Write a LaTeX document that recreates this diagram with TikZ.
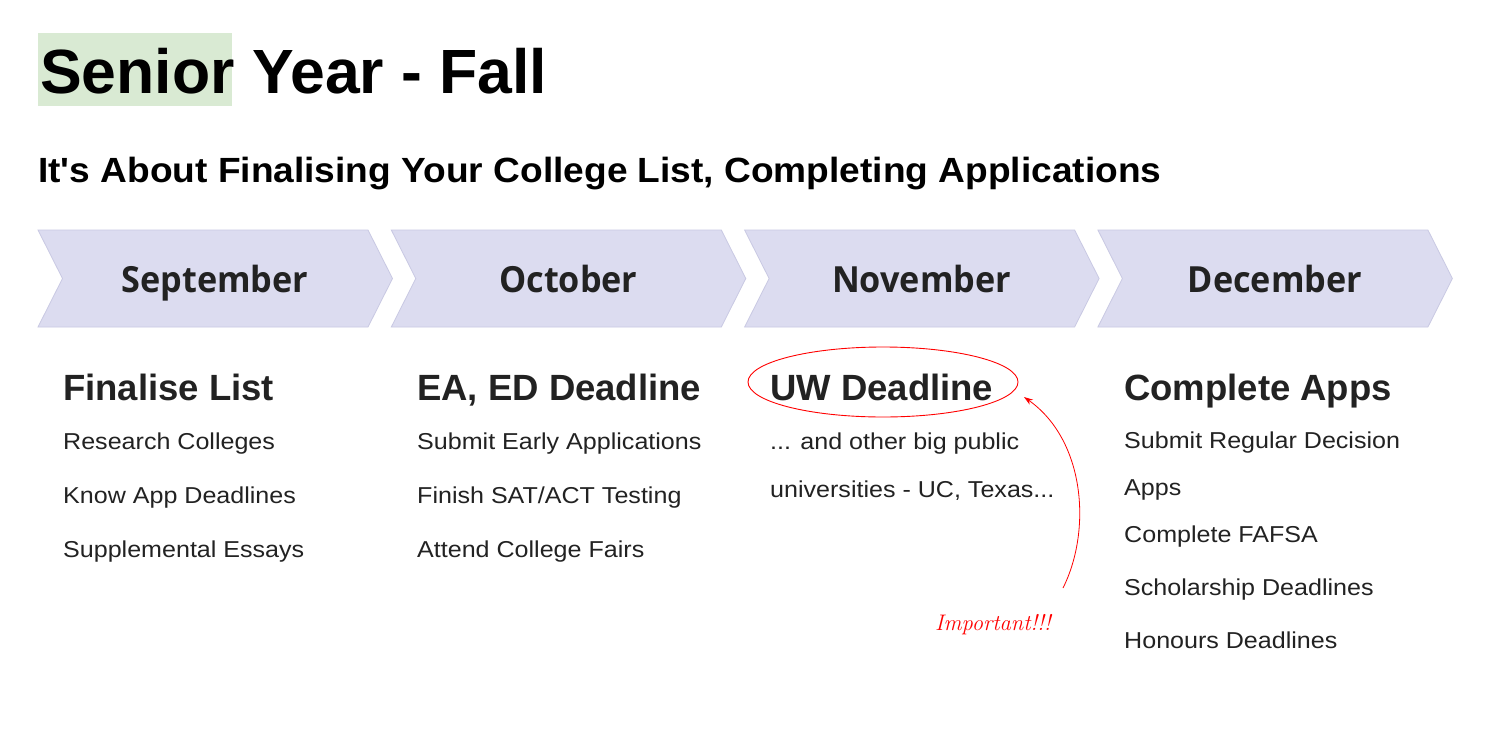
\documentclass[tikz,border=0pt]{standalone}
\usepackage{fontspec}
\setmainfont{Liberation Sans}[Ligatures=TeXOff]
\newfontfamily\monthfont{Open Sans}[FakeStretch=0.95]
\newfontfamily\bodyfont{Liberation Sans}[FakeStretch=1.09,Ligatures=TeXOff]
\newfontfamily\subfont{Liberation Sans}[FakeStretch=1.06,Ligatures=TeXOff]
\usetikzlibrary{shapes.geometric,arrows.meta}
\definecolor{chev}{HTML}{DCDCF0}
\definecolor{chevline}{HTML}{C9C9E3}
\definecolor{hl}{HTML}{D9EAD3}
\definecolor{txt}{HTML}{222222}
\begin{document}
\begin{tikzpicture}[x=1pt,y=-1pt,
  chevbox/.style={fill=chev,draw=chevline,line width=0.8pt},
  monthlbl/.style={anchor=base,font=\monthfont\fontsize{36}{36}\selectfont\bfseries,text=txt,inner sep=0},
  head/.style={anchor=base west,inner sep=0,font=\fontsize{36.5}{36.5}\selectfont\bfseries,text=txt},
  item/.style={anchor=base west,inner sep=0,font=\bodyfont\fontsize{23}{23}\selectfont,text=txt},
]
\useasboundingbox (0,0) rectangle (1494,734);
\fill[white] (0,0) rectangle (1494,734);
% title
\fill[hl] (38,33) rectangle (232,106);
\node[anchor=base west,inner sep=0,font=\fontsize{62.5}{62.5}\selectfont\bfseries] (title) at (40,93) {Senior Year - Fall};
\node[anchor=base west,inner sep=0,font=\subfont\fontsize{35}{35}\selectfont\bfseries] (sub) at (38,182) {It's About Finalising Your College List, Completing Applications};
% chevrons
\foreach \i/\m in {0/September,1/October,2/November,3/December}{
  \pgfmathsetmacro{\xo}{38+353.3*\i}
  \draw[chevbox] (\xo,230) -- ++(330,0) -- ++(24.5,48.5) -- ++(-24.5,48.5) -- ++(-330,0) -- ++(24.5,-48.5) -- cycle;
  \node[monthlbl] (m\i) at (\xo+177,292.5) {\m};
}
% September
\node[head] (h1) at (63,400) {Finalise List};
\node[item] (s1) at (63,449) {Research Colleges};
\node[item] (s2) at (63,503) {Know App Deadlines};
\node[item] (s3) at (63,557) {Supplemental Essays};
% October
\node[head] (h2) at (417,400) {EA, ED Deadline};
\node[item] (o1) at (417,449) {Submit Early Applications};
\node[item] (o2) at (417,503) {Finish SAT/ACT Testing};
\node[item] (o3) at (417,557) {Attend College Fairs};
% November
\node[head] (h3) at (770,400) {UW Deadline};
\node[item] (n1) at (770,449) {... and other big public};
\node[item] (n2) at (770,497) {universities - UC, Texas...};
% December
\node[head] (h4) at (1124,400) {Complete Apps};
\node[item] (d1) at (1124,448) {Submit Regular Decision};
\node[item] (d2) at (1124,495) {Apps};
\node[item] (d3) at (1124,542) {Complete FAFSA};
\node[item] (d4) at (1124,595) {Scholarship Deadlines};
\node[item] (d5) at (1124,648) {Honours Deadlines};
% annotation
\node[ellipse,draw=red,line width=0.9pt,minimum width=270,minimum height=70,inner sep=0] (ring) at (883,382) {};
\node[anchor=base west,inner sep=0,text=red,font=\usefont{TU}{lmr}{m}{it}\fontsize{22.5}{22.5}\selectfont] (imp) at (935,630) {Important!!!};
\coordinate (astart) at (1063,588);
\coordinate (aend) at (1024,397);
\draw[red,line width=0.8pt,-{Stealth[length=9pt,width=6pt]}] (astart) .. controls (1092,530) and (1085,440) .. (aend);
\end{tikzpicture}
\end{document}
